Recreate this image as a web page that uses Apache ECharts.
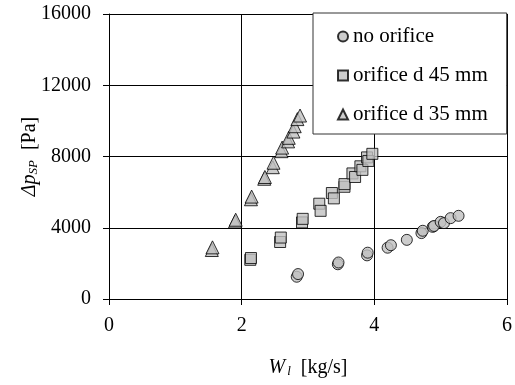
<!DOCTYPE html>
<html>
<head>
<meta charset="utf-8">
<script src="https://cdn.jsdelivr.net/npm/echarts@6/dist/echarts.min.js"></script>
<style>
  html, body { margin: 0; padding: 0; background: #fff; }
  #chart { width: 515px; height: 385px; }
</style>
</head>
<body>
<div id="chart"></div>
<script>
// [W_l kg/s, dp_SP Pa]
const noOrifice = [
  [2.83, 1250], [2.85, 1400], [3.45, 1950], [3.46, 2050], [3.89, 2450],
  [3.90, 2600], [4.20, 2880], [4.25, 3020], [4.49, 3320], [4.71, 3700],
  [4.73, 3830], [4.88, 4050], [4.90, 4100], [5.00, 4330], [5.05, 4260],
  [5.15, 4540], [5.27, 4670]
]
const orifice45 = [
  [2.13, 2200], [2.14, 2300], [2.58, 3200], [2.59, 3450], [2.91, 4300],
  [2.92, 4500], [3.17, 5350], [3.19, 4950], [3.36, 5950], [3.39, 5650],
  [3.55, 6300], [3.55, 6450], [3.67, 7050], [3.71, 6850], [3.79, 7450],
  [3.82, 7250], [3.89, 7950], [3.91, 7750], [3.97, 8150]
]
const orifice35 = [
  [1.55, 2750], [1.56, 2900], [1.90, 4350], [1.91, 4450], [2.14, 5600],
  [2.15, 5750], [2.34, 6750], [2.35, 6850], [2.47, 7400], [2.48, 7650],
  [2.60, 8300], [2.61, 8500], [2.70, 8850], [2.71, 9050], [2.78, 9400],
  [2.80, 9700], [2.84, 10100], [2.88, 10300]
]
const seriesNames = ['no orifice', 'orifice d 45 mm', 'orifice d 35 mm']
const xTicks = [0, 6, 2]      // min, max, interval
const yTicks = [0, 16000, 4000]

const font = 'Liberation Serif'
const marker = {
  color: '#c0c0c0',
  borderColor: '#000',
  borderWidth: 1
}

const chart = echarts.init(document.getElementById('chart'))
chart.setOption({
  animation: false,
  textStyle: { fontFamily: font, color: '#000' },
  grid: { left: 109, right: 6, top: 14, bottom: 86 },
  legend: {
    orient: 'vertical',
    left: 313,
    top: 13,
    backgroundColor: '#fff',
    borderColor: '#333',
    borderWidth: 1,
    padding: [13, 19, 9, 24],
    itemGap: 18,
    itemWidth: 10,
    itemHeight: 10,
    textStyle: { fontFamily: font, fontSize: 21, color: '#000' },
    data: [
      { name: seriesNames[0], icon: 'circle' },
      { name: seriesNames[1], icon: 'rect' },
      { name: seriesNames[2], icon: 'triangle' }
    ]
  },
  xAxis: {
    type: 'value',
    min: xTicks[0],
    max: xTicks[1],
    interval: xTicks[2],
    name: '{it|W}{sub|l}{n|  [kg/s]}',
    nameLocation: 'middle',
    nameGap: 58,
    nameMoveOverlap: false,
    nameTextStyle: {
      rich: {
        it: { fontFamily: font, fontSize: 20, fontStyle: 'italic' },
        sub: { fontFamily: font, fontSize: 13, fontStyle: 'italic', padding: [8, 0, 0, 2] },
        n: { fontFamily: font, fontSize: 20 }
      }
    },
    axisLine: { lineStyle: { color: '#000', width: 1 } },
    axisTick: { show: true, length: 6, lineStyle: { color: '#000' } },
    axisLabel: { fontFamily: font, fontSize: 20, color: '#000', margin: 17 },
    splitLine: { show: true, lineStyle: { color: '#000', width: 1 } }
  },
  yAxis: {
    type: 'value',
    min: yTicks[0],
    max: yTicks[1],
    interval: yTicks[2],
    name: '{it|Δp}{sub|SP}{n|  [Pa]}',
    nameLocation: 'middle',
    nameGap: 69,
    nameRotate: 90,
    nameMoveOverlap: false,
    nameTextStyle: {
      rich: {
        it: { fontFamily: font, fontSize: 20, fontStyle: 'italic' },
        sub: { fontFamily: font, fontSize: 13, fontStyle: 'italic', padding: [8, 0, 0, 0] },
        n: { fontFamily: font, fontSize: 20 }
      }
    },
    axisLine: { show: true, lineStyle: { color: '#000', width: 1 } },
    axisTick: { show: true, length: 6, lineStyle: { color: '#000' } },
    axisLabel: {
      fontFamily: font,
      fontSize: 20,
      color: '#000',
      margin: 18,
      formatter: function (v) { return String(v) }
    },
    splitLine: { show: true, lineStyle: { color: '#000', width: 1 } }
  },
  series: [
    { name: seriesNames[0], type: 'scatter', symbol: 'circle', symbolSize: 11, itemStyle: marker, data: noOrifice },
    { name: seriesNames[1], type: 'scatter', symbol: 'rect', symbolSize: 11, itemStyle: marker, data: orifice45 },
    { name: seriesNames[2], type: 'scatter', symbol: 'triangle', symbolSize: 13, itemStyle: marker, data: orifice35 }
  ]
})
window.addEventListener('resize', function () {
  chart && chart.resize()
})
</script>
</body>
</html>
